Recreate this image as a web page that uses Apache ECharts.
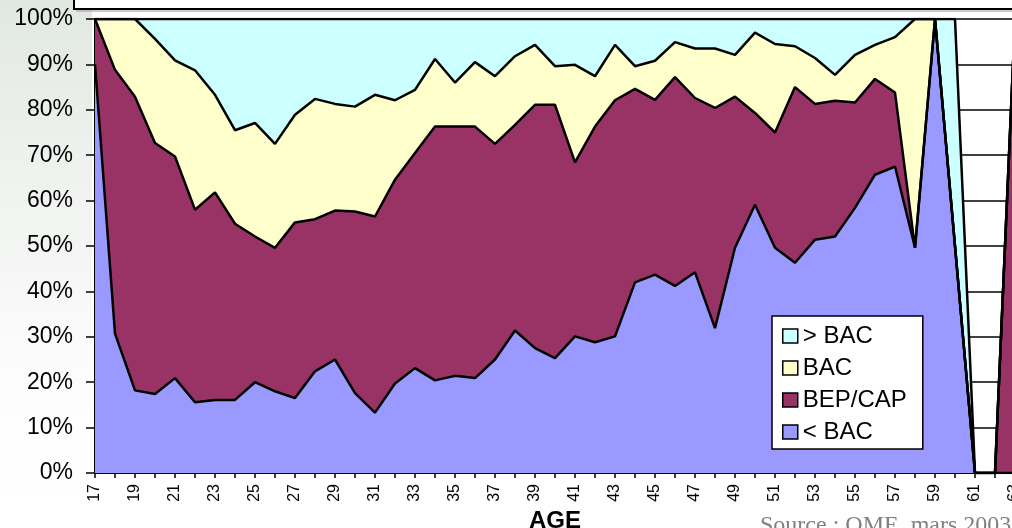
<!DOCTYPE html>
<html>
<head>
<meta charset="utf-8">
<script src="https://cdn.jsdelivr.net/npm/echarts@6/dist/echarts.min.js"></script>
<style>
  html, body { margin: 0; padding: 0; background: #fff; }
  #chart { width: 1012px; height: 528px; }
</style>
</head>
<body>
<div id="chart"></div>
<script>
// ages on the x axis
var ages = ['17','18','19','20','21','22','23','24','25','26','27','28','29','30','31','32',
    '33','34','35','36','37','38','39','40','41','42','43','44','45','46','47','48','49',
    '50','51','52','53','54','55','56','57','58','59','60','61','62','63']

// share of each level (%)
var lessBac = [90,30.7,18.2,17.4,20.9,15.6,16.1,16.1,20.0,18.0,16.5,22.4,25.0,17.6,13.3,19.7,
    23.1,20.4,21.4,20.9,25.0,31.4,27.5,25.3,30.1,28.8,30.1,42.0,43.7,41.2,44.2,31.9,49.6,
    59.1,49.6,46.3,51.4,52.1,58.4,65.7,67.5,49.6,100,50,0,0,0]
var bepCap = [10,58.1,64.7,55.3,48.8,42.4,45.7,38.8,32.1,31.6,38.7,33.5,32.8,40.0,43.2,44.9,
    47.4,55.9,54.9,55.4,47.5,45.3,53.6,55.8,38.3,47.5,52.0,42.6,38.5,46.0,38.4,48.5,33.3,
    20.2,25.4,38.7,29.9,29.9,23.2,21.1,16.3,0,0,0,0,0,100]
var bac = [0,11.2,17.1,22.9,21.2,30.7,21.5,20.6,25.0,22.9,23.7,26.5,23.5,23.1,26.8,17.5,
    13.9,14.9,9.7,14.2,14.9,15.1,13.2,8.5,21.5,11.1,12.2,5.0,8.6,7.7,10.9,13.1,9.2,
    17.7,19.5,9.0,10.1,5.7,10.5,7.5,12.2,50.4,0,0,0,0,0]
var overBac = [0,0,0,4.4,9.1,11.3,16.7,24.5,22.9,27.5,21.1,17.6,18.7,19.3,16.7,17.9,
    15.6,8.8,14.0,9.5,12.6,8.2,5.7,10.4,10.1,12.6,5.7,10.4,9.2,5.1,6.5,6.5,7.9,
    3.0,5.5,6.0,8.6,12.3,7.9,5.7,4.0,0,0,50,0,0,0]

var names = ['< BAC', 'BEP/CAP', 'BAC', '> BAC']
var colors = ['#9999ff', '#993366', '#ffffcc', '#ccffff']

var myChart = echarts.init(document.getElementById('chart'))

function areaSeries(name, data, color) {
    return {
        name: name,
        type: 'line',
        stack: 'total',
        data: data,
        showSymbol: false,
        color: color,
        lineStyle: { color: '#000', width: 2.5 },
        areaStyle: { color: color, opacity: 1 },
        emphasis: { disabled: true }
    }
}

var font = "'Liberation Sans', Arial, sans-serif"

var option = {
    backgroundColor: '#fff',
    animation: false,
    grid: {
        left: 95,
        right: -3,
        top: 19,
        bottom: 55,
        outerBoundsMode: 'none'
    },
    legend: {
        data: ['> BAC', 'BAC', 'BEP/CAP', '< BAC'],
        orient: 'vertical',
        left: 772,
        top: 316,
        icon: 'rect',
        itemWidth: 15,
        itemHeight: 14,
        itemGap: 8,
        padding: [8, 16, 5, 10],
        backgroundColor: '#fff',
        borderColor: '#000',
        borderWidth: 1.5,
        itemStyle: { borderColor: '#000', borderWidth: 1.5 },
        textStyle: { fontFamily: font, fontSize: 24, lineHeight: 22, color: '#000' }
    },
    xAxis: {
        type: 'category',
        data: ages,
        boundaryGap: false,
        name: 'AGE',
        nameLocation: 'middle',
        nameGap: 35,
        nameTextStyle: { fontFamily: font, fontSize: 24, fontWeight: 'bold', color: '#000' },
        axisLine: { lineStyle: { color: '#000', width: 2 } },
        axisTick: { interval: 0, length: 5, lineStyle: { color: '#000', width: 1.5 } },
        axisLabel: {
            interval: 1,
            rotate: 90,
            margin: 11,
            fontFamily: font,
            fontSize: 16,
            color: '#000'
        }
    },
    yAxis: {
        type: 'value',
        min: 0,
        max: 100,
        interval: 10,
        axisLine: { show: true, lineStyle: { color: '#000', width: 2 } },
        axisTick: { show: true, length: 9, lineStyle: { color: '#000', width: 1.5 } },
        axisLabel: {
            formatter: '{value}%',
            margin: 22,
            fontFamily: font,
            fontSize: 23,
            color: '#000'
        },
        splitLine: { show: true, lineStyle: { color: '#000', width: 1.5 } }
    },
    graphic: [
        {
            type: 'rect',
            left: 0, top: 0, z: -10,
            shape: { x: 0, y: 0, width: 92, height: 528 },
            style: {
                fill: new echarts.graphic.LinearGradient(0, 0, 0, 1, [
                    { offset: 0, color: 'rgba(200,212,200,0.55)' },
                    { offset: 0.5, color: 'rgba(225,230,225,0.35)' },
                    { offset: 1, color: 'rgba(255,255,255,0)' }
                ])
            },
            silent: true
        },
        {
            type: 'rect',
            shape: { x: 74, y: -20, width: 1000, height: 29 },
            style: { fill: '#fff', stroke: '#000', lineWidth: 2 },
            silent: true
        },
        {
            type: 'line',
            shape: { x1: 76, y1: 11, x2: 1012, y2: 11 },
            style: { stroke: '#999', lineWidth: 1 },
            silent: true
        },
        {
            type: 'text',
            x: 760, y: 514,
            style: {
                text: 'Source : OME, mars 2003',
                font: "24px 'Liberation Serif', 'Times New Roman', serif",
                fill: '#808080'
            },
            silent: true
        }
    ],
    series: [
        areaSeries(names[0], lessBac, colors[0]),
        areaSeries(names[1], bepCap, colors[1]),
        areaSeries(names[2], bac, colors[2]),
        areaSeries(names[3], overBac, colors[3])
    ]
}
myChart.setOption(option)
</script>
</body>
</html>
